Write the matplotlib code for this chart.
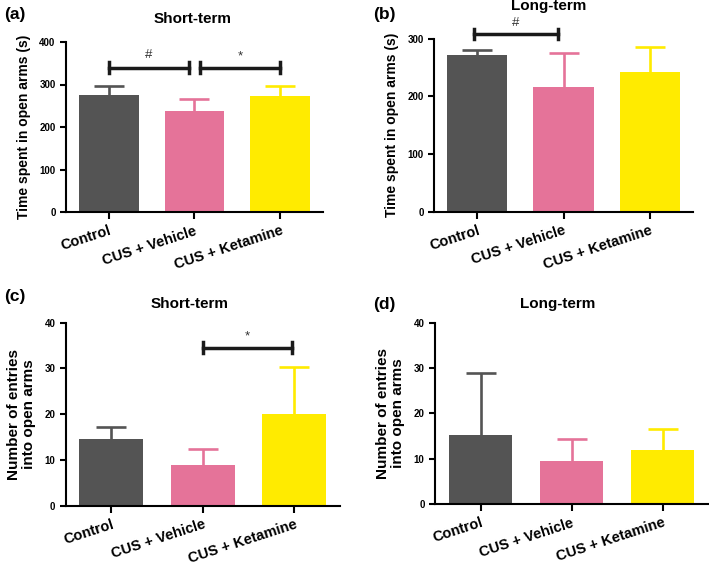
import numpy as np
import matplotlib.pyplot as plt

plt.rcParams['font.family'] = ['Liberation Sans', 'DejaVu Sans']
plt.rcParams['font.weight'] = 'bold'

# ----------------------------------------------------------
# data
# ----------------------------------------------------------
groups = ['Control', 'CUS + Vehicle', 'CUS + Ketamine']
colors = ['#545454', '#E57399', '#FFEB00']

time_short = [276, 238, 274]
time_short_err = [20, 29, 23]
time_long = [271, 216, 242]
time_long_err = [9, 60, 43]
entries_short = [14.6, 8.9, 20.0]
entries_short_err = [2.5, 3.5, 10.4]
entries_long = [15.2, 9.5, 11.9]
entries_long_err = [13.8, 4.8, 4.6]

W, H = 709, 564
fig = plt.figure(figsize=(W / 100, H / 100), dpi=100)


def px_axes(x0, y0, x1, y1):
    """pixel box (left, top, right, bottom) -> axes"""
    return fig.add_axes([x0 / W, 1 - y1 / H, (x1 - x0) / W, (y1 - y0) / H])


def bar_panel(ax, values, errs, ymax, ystep, ylabel, ylabel_size):
    x = np.arange(len(groups))
    ax.bar(x, values, width=0.7, color=colors, zorder=2)
    for xi, v, e, c in zip(x, values, errs, colors):
        _, caps, _ = ax.errorbar(xi, v, yerr=[[0], [e]], color=c, capsize=10.5,
                                 elinewidth=1.9, capthick=1.9, zorder=1)
        # only the upper cap is wanted
        for cap in caps:
            if np.allclose(cap.get_ydata(), v):
                cap.set_visible(False)
    ax.set_xlim(-0.5, 2.5)
    ax.set_ylim(0, ymax)
    ax.set_yticks(np.arange(0, ymax + 1e-9, ystep))
    ax.set_xticks(x)
    ax.set_xticklabels(groups, rotation=18, ha='right', rotation_mode='anchor',
                       fontsize=10.5, fontweight='bold')
    for lab in ax.get_yticklabels():
        lab.set_fontweight('bold')
    ax.tick_params(axis='y', labelsize=7, width=1.5, length=4)
    ax.tick_params(axis='x', width=1.5, length=5)
    ax.spines['top'].set_visible(False)
    ax.spines['right'].set_visible(False)
    ax.spines['left'].set_linewidth(1.5)
    ax.spines['bottom'].set_linewidth(1.5)
    ax.set_ylabel(ylabel, fontsize=ylabel_size, fontweight='bold', labelpad=6,
                  linespacing=1.1)


def bracket(ax, x0, x1, y, h, label, label_dy):
    ax.plot([x0, x1], [y, y], color='#1a1a1a', lw=2.5, clip_on=False, zorder=3)
    for xx in (x0, x1):
        ax.plot([xx, xx], [y - h, y + h], color='#1a1a1a', lw=2.5,
                clip_on=False, zorder=3)
    ax.text((x0 + x1) / 2, y + label_dy, label, ha='center', va='bottom',
            fontsize=9.5, fontweight='normal', color='#333333')


# (a)
ax_a = px_axes(66, 42, 323, 212)
bar_panel(ax_a, time_short, time_short_err, 400, 100,
          'Time spent in open arms (s)', 10)
bracket(ax_a, 0, 0.94, 340, 12, '#', 16)
bracket(ax_a, 1.06, 2.0, 340, 12, '*', 12)

# (b)
ax_b = px_axes(434, 38.7, 693, 211.7)
bar_panel(ax_b, time_long, time_long_err, 300, 100,
          'Time spent in open arms (s)', 10)
bracket(ax_b, -0.04, 0.94, 308.6, 9, '#', 9)

# (c)
ax_c = px_axes(65.7, 322.7, 340, 505.7)
bar_panel(ax_c, entries_short, entries_short_err, 40, 10,
          'Number of entries\ninto open arms', 11)
bracket(ax_c, 1.0, 1.98, 34.5, 1.2, '*', 1.2)

# (d)
ax_d = px_axes(435, 322.7, 708, 504)
bar_panel(ax_d, entries_long, entries_long_err, 40, 10,
          'Number of entries\ninto open arms', 11)

# titles and panel letters
titles = [('Short-term', 193, 19), ('Long-term', 549, 6),
          ('Short-term', 190, 304), ('Long-term', 558, 304)]
for t, x, y in titles:
    fig.text(x / W, 1 - y / H, t, ha='center', va='center',
             fontsize=11, fontweight='bold')

letters = [('(a)', 4, 15), ('(b)', 373, 15), ('(c)', 4, 297), ('(d)', 373, 304)]
for t, x, y in letters:
    fig.text(x / W, 1 - y / H, t, ha='left', va='center',
             fontsize=12.5, fontweight='bold')

fig.savefig('out.png', dpi=100)
